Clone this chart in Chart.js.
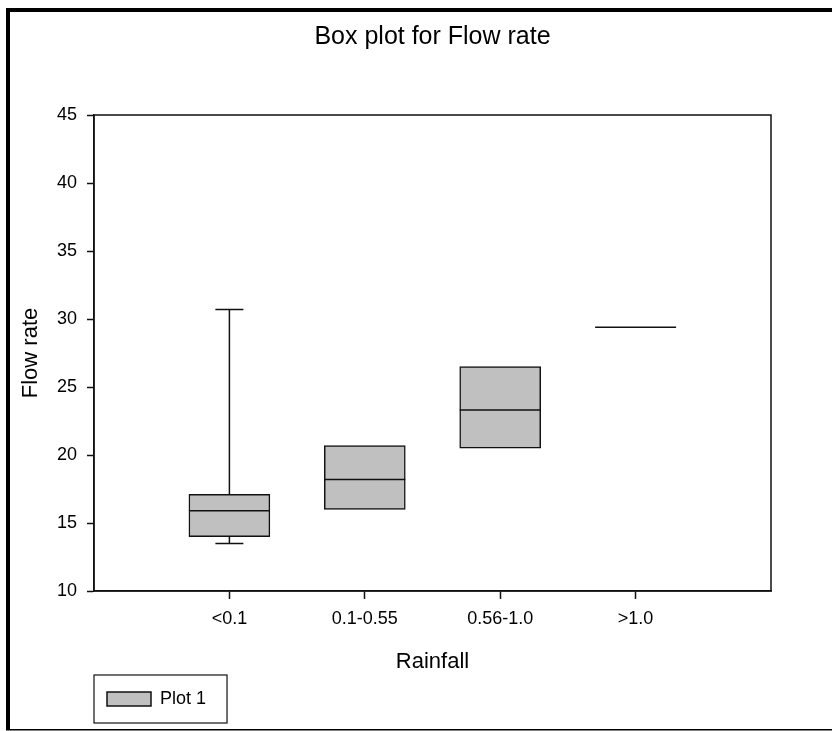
<!DOCTYPE html>
<html>
<head>
<meta charset="utf-8">
<title>Box plot for Flow rate</title>
<script src="https://cdn.jsdelivr.net/npm/chart.js@4.4.0/dist/chart.umd.min.js"></script>
<style>
  html, body { margin: 0; padding: 0; background: #fff; }
  #wrap { width: 832px; height: 731px; position: relative; }
</style>
</head>
<body>
<div id="wrap"><canvas id="boxChart"></canvas></div>
<script>
// rainfall groups and where they sit on the x axis
const categories = ['<0.1', '0.1-0.55', '0.56-1.0', '>1.0'];
const positions = [1, 2, 3, 4];

// box statistics per group
const mins    = [13.5, 16.0, 20.5, 29.4];
const q1s     = [14.0, 16.0, 20.5, 29.4];
const medians = [15.9, 18.2, 23.3, 29.4];
const q3s     = [17.1, 20.7, 26.5, 29.4];
const maxs    = [30.7, 20.7, 26.5, 29.4];

const yTicks = [10, 15, 20, 25, 30, 35, 40, 45];

const FONT = 'Liberation Sans, Arial, Helvetica, sans-serif';

// frame, plot box, whiskers, medians, legend border
const boxPlotExtras = {
    id: 'boxPlotExtras',
    beforeDraw(chart) {
        const ctx = chart.ctx;
        ctx.save();
        ctx.fillStyle = '#fff';
        ctx.fillRect(0, 0, chart.width, chart.height);
        ctx.fillStyle = '#000';
        ctx.fillRect(6, 8, chart.width - 6, 4);
        ctx.fillRect(6, 8, 4, 722);
        ctx.fillRect(6, 729, chart.width - 6, 1.5);
        ctx.restore();
    },
    afterDatasetsDraw(chart) {
        const ctx = chart.ctx;
        const xs = chart.scales.x;
        const ys = chart.scales.y;
        const meta = chart.getDatasetMeta(0);
        ctx.save();
        ctx.strokeStyle = '#111';
        ctx.lineWidth = 1.5;
        positions.forEach((p, i) => {
            const x = xs.getPixelForValue(p);
            const half = meta.data[i].width / 2;
            const capHalf = 14;
            ctx.beginPath();
            if (maxs[i] > q3s[i]) {
                ctx.moveTo(x, ys.getPixelForValue(q3s[i]));
                ctx.lineTo(x, ys.getPixelForValue(maxs[i]));
                ctx.moveTo(x - capHalf, ys.getPixelForValue(maxs[i]));
                ctx.lineTo(x + capHalf, ys.getPixelForValue(maxs[i]));
            }
            if (mins[i] < q1s[i]) {
                ctx.moveTo(x, ys.getPixelForValue(q1s[i]));
                ctx.lineTo(x, ys.getPixelForValue(mins[i]));
                ctx.moveTo(x - capHalf, ys.getPixelForValue(mins[i]));
                ctx.lineTo(x + capHalf, ys.getPixelForValue(mins[i]));
            }
            const my = ys.getPixelForValue(medians[i]);
            ctx.moveTo(x - half, my);
            ctx.lineTo(x + half, my);
            ctx.stroke();
        });
        ctx.restore();
    },
    afterDraw(chart) {
        const ctx = chart.ctx;
        const a = chart.chartArea;
        ctx.save();
        ctx.strokeStyle = '#111';
        ctx.lineWidth = 1.5;
        ctx.strokeRect(a.left, a.top, a.right - a.left, a.bottom - a.top);

        // border around the legend
        const hb = chart.legend && chart.legend.legendHitBoxes[0];
        if (hb) {
            ctx.lineWidth = 1.2;
            ctx.strokeRect(hb.left - 13, hb.top - 15, hb.width + 34, hb.height + 30);
        }
        ctx.restore();
    }
};

new Chart(document.getElementById('boxChart'), {
    type: 'bar',
    data: {
        datasets: [{
            label: 'Plot 1',
            data: positions.map((p, i) => ({ x: p, y: [q1s[i], q3s[i]] })),
            backgroundColor: '#c0c0c0',
            borderColor: '#111',
            borderWidth: 1.5,
            borderSkipped: false,
            barThickness: 81
        }]
    },
    options: {
        responsive: true,
        maintainAspectRatio: false,
        animation: false,
        layout: {
            padding: { left: 0, right: 61, top: 0, bottom: 13 }
        },
        plugins: {
            title: {
                display: true,
                text: 'Box plot for Flow rate',
                fullSize: false,
                color: '#000',
                font: { family: FONT, size: 25, weight: 'normal' },
                padding: { top: 22, bottom: 63 }
            },
            legend: {
                display: true,
                position: 'bottom',
                align: 'start',
                fullSize: false,
                labels: {
                    color: '#000',
                    font: { family: FONT, size: 18 },
                    boxWidth: 44,
                    boxHeight: 14,
                    padding: 13
                }
            },
            tooltip: { enabled: false }
        },
        scales: {
            x: {
                type: 'linear',
                min: 0,
                max: 5,
                offset: false,
                afterBuildTicks: axis => {
                    axis.ticks = positions.map(v => ({ value: v }));
                },
                afterFit: axis => { axis.height = 86; },
                ticks: {
                    color: '#000',
                    font: { family: FONT, size: 18 },
                    padding: 9,
                    maxRotation: 0,
                    callback: v => categories[positions.indexOf(v)]
                },
                grid: {
                    offset: false,
                    drawOnChartArea: false,
                    drawTicks: true,
                    tickLength: 8,
                    tickWidth: 1.5,
                    tickColor: '#111'
                },
                border: { display: true, color: '#111', width: 1.5 },
                title: {
                    display: true,
                    text: 'Rainfall',
                    color: '#000',
                    font: { family: FONT, size: 22 },
                    padding: { top: 0, bottom: 2 }
                }
            },
            y: {
                min: 10,
                max: 45,
                afterBuildTicks: axis => {
                    axis.ticks = yTicks.map(v => ({ value: v }));
                },
                afterFit: axis => { axis.width = 94; },
                ticks: {
                    color: '#000',
                    font: { family: FONT, size: 18 },
                    padding: 10
                },
                grid: {
                    drawOnChartArea: false,
                    drawTicks: true,
                    tickLength: 7,
                    tickWidth: 1.5,
                    tickColor: '#111'
                },
                border: { display: true, color: '#111', width: 1.5 },
                title: {
                    display: true,
                    text: 'Flow rate',
                    color: '#000',
                    font: { family: FONT, size: 22 },
                    padding: { top: 18, bottom: 0 }
                }
            }
        }
    },
    plugins: [boxPlotExtras]
});
</script>
</body>
</html>
